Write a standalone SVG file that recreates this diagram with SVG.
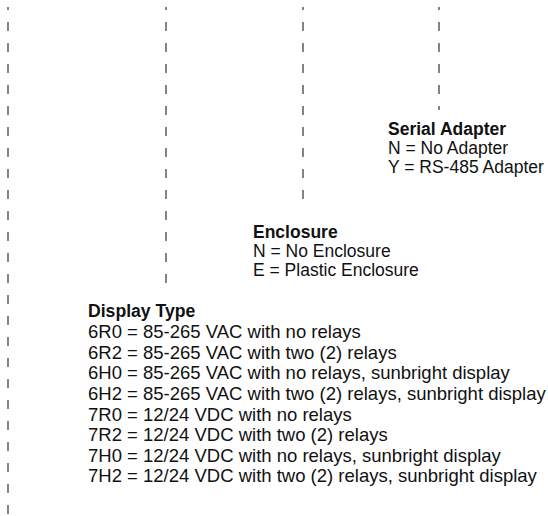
<svg xmlns="http://www.w3.org/2000/svg" width="548" height="516" viewBox="0 0 548 516">
<style>
.c{stroke:#333;stroke-width:1.2;stroke-dasharray:9 12;stroke-dashoffset:6;fill:none}
text{font-family:"Liberation Sans",Arial,sans-serif;font-size:17.5px;fill:#111}
.h{font-weight:bold}
#display-type text{font-size:18.5px}
#display-type text.h{font-size:17.6px}
</style>
<rect width="548" height="516" fill="#fff"/>
<g id="connectors">
<line class="c" x1="8" y1="7" x2="8" y2="515"/>
<line class="c" x1="166" y1="7" x2="166" y2="289"/>
<line class="c" x1="303" y1="7" x2="303" y2="203"/>
<line class="c" x1="439" y1="7" x2="439" y2="110"/>
</g>
<g id="serial-adapter">
<text x="388" y="135" class="h">Serial Adapter</text>
<text x="388" y="154">N = No Adapter</text>
<text x="388" y="173">Y = RS-485 Adapter</text>
</g>
<g id="enclosure">
<text x="253" y="238" class="h">Enclosure</text>
<text x="253" y="257">N = No Enclosure</text>
<text x="253" y="276">E = Plastic Enclosure</text>
</g>
<g id="display-type">
<text x="88" y="317" class="h">Display Type</text>
<text x="88" y="338">6R0 = 85-265 VAC with no relays</text>
<text x="88" y="358.5">6R2 = 85-265 VAC with two (2) relays</text>
<text x="88" y="379">6H0 = 85-265 VAC with no relays, sunbright display</text>
<text x="88" y="400">6H2 = 85-265 VAC with two (2) relays, sunbright display</text>
<text x="88" y="420.5">7R0 = 12/24 VDC with no relays</text>
<text x="88" y="441">7R2 = 12/24 VDC with two (2) relays</text>
<text x="88" y="461.5">7H0 = 12/24 VDC with no relays, sunbright display</text>
<text x="88" y="482">7H2 = 12/24 VDC with two (2) relays, sunbright display</text>
</g>
</svg>
